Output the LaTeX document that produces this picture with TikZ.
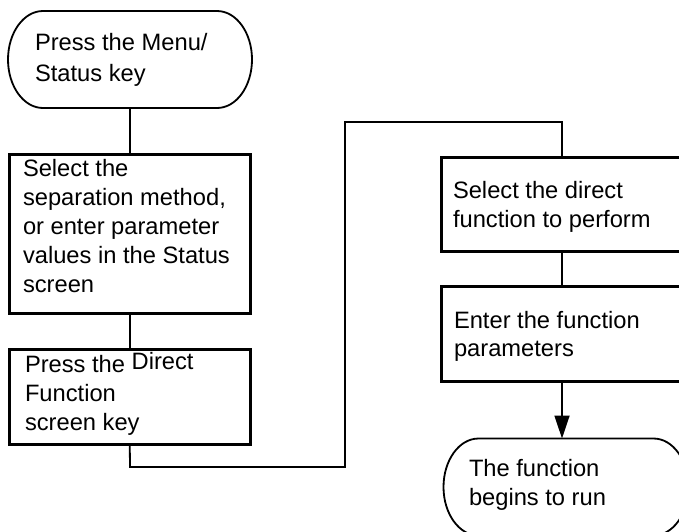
\documentclass[tikz,border=0pt]{standalone}
\usepackage{fontspec}
\setmainfont{Liberation Sans}
\usetikzlibrary{arrows.meta}
\begin{document}
\begin{tikzpicture}[x=1pt,y=-1pt,
  box/.style={draw, line width=3pt, inner sep=0pt, outer sep=0pt, anchor=north west, minimum width=240.5pt},
  termframe/.style={inner sep=0pt, outer sep=0pt, anchor=north west, minimum height=97pt},
  termline/.style={line width=1.8pt},
  txt/.style={inner sep=0pt, outer sep=0pt, anchor=north west, align=left, font=\fontsize{23.7pt}{29.3pt}\selectfont},
  conn/.style={line width=1.8pt},
]
\useasboundingbox (0,0) rectangle (679,531);
\clip (0,0) rectangle (679,531);
% frames
\node[termframe, minimum width=244pt] (t1) at (8,11) {};
\node[box, minimum height=159pt] (b1) at (9.5,154) {};
\node[box, minimum height=95pt] (b2) at (9.5,349) {};
\node[box, minimum width=241pt, minimum height=94pt] (b3) at (441.5,157) {};
\node[box, minimum width=241pt, minimum height=95pt] (b4) at (441.5,286) {};
\node[termframe, minimum width=245pt] (t2) at (443.5,438.5) {};
% terminal outlines
\draw[termline] ([xshift=35pt]t1.north west) -- ([xshift=-35pt]t1.north east)
  arc[start angle=90, end angle=-90, x radius=35pt, y radius=48.5pt]
  -- ([xshift=35pt]t1.south west)
  arc[start angle=270, end angle=90, x radius=35pt, y radius=48.5pt] -- cycle;
\draw[termline] ([xshift=35pt]t2.north west) -- ([xshift=-35pt]t2.north east)
  arc[start angle=90, end angle=-90, x radius=35pt, y radius=48.5pt]
  -- ([xshift=35pt]t2.south west)
  arc[start angle=270, end angle=90, x radius=35pt, y radius=48.5pt] -- cycle;
% texts
\node[txt, font=\fontsize{23.7pt}{31pt}\selectfont] (t1x) at (35,30) {\rule{0pt}{20pt}Press the Menu/\\Status key};
\node[txt, font=\fontsize{23.7pt}{29.2pt}\selectfont] (b1x) at (23,156) {\rule{0pt}{20pt}Select the\\separation method,\\or enter parameter\\values in the Status\\screen};
\node[txt] (b2x) at (25,352) {\rule{0pt}{20pt}Press the \raisebox{3pt}{Direct}\\Function\\screen key};
\node[txt, font=\fontsize{23.7pt}{28.9pt}\selectfont] (b3x) at (453,178.5) {\rule{0pt}{20pt}Select the direct\\function to perform};
\node[txt, font=\fontsize{23.7pt}{28.3pt}\selectfont] (b4x) at (454,308) {\rule{0pt}{20pt}Enter the function\\parameters};
\node[txt, font=\fontsize{23.7pt}{29pt}\selectfont] (t2x) at (469,456) {\rule{0pt}{20pt}The function\\begins to run};
% connectors
\coordinate (k1) at (130,467);
\coordinate (k2) at (345,122);
\draw[conn] (t1.south) -- (t1.south |- b1.north);
\draw[conn] (b1.south) -- (b2.north);
\draw[conn] (b2.south) -- (k1) -| (k2) -| (b3.north);
\draw[conn] (b3.south) -- (b4.north);
\draw[conn, -{Triangle[width=15pt,length=23pt]}] (b4.south) -- (b4.south |- t2.north);
\end{tikzpicture}
\end{document}
